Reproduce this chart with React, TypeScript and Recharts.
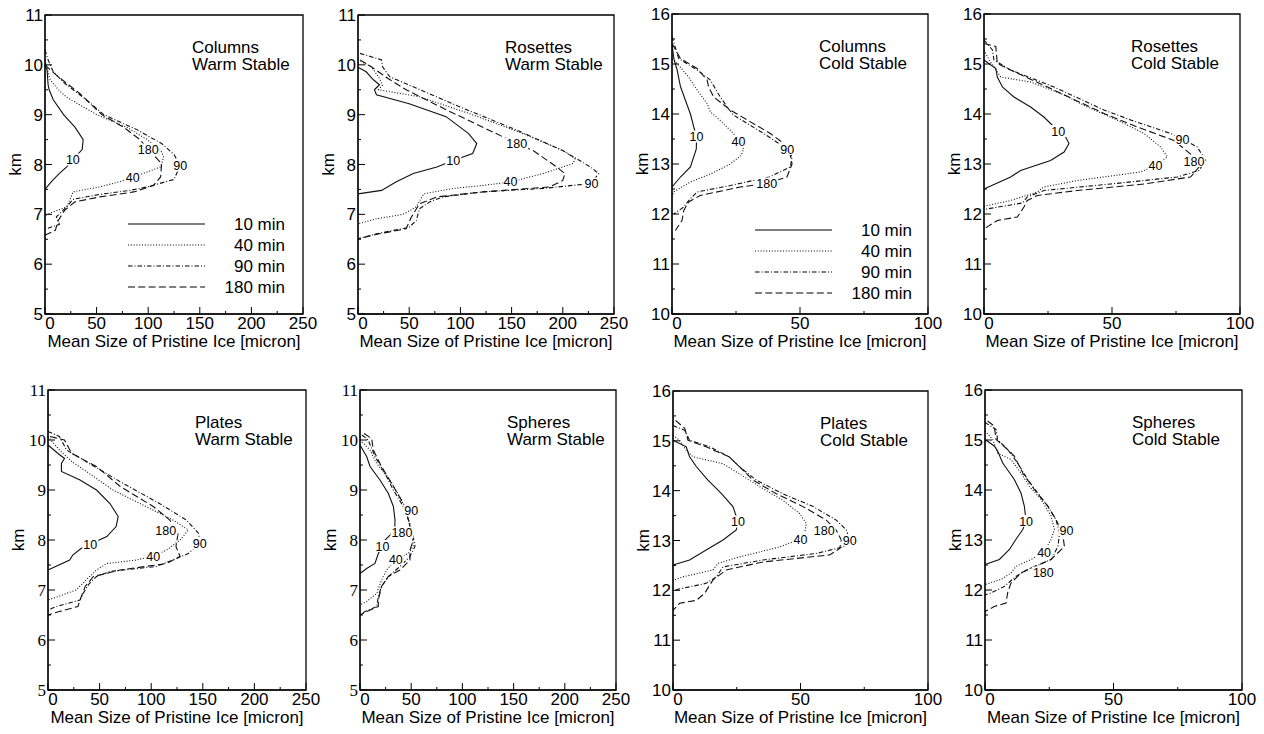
import { LineChart, Line, XAxis, YAxis, ReferenceArea } from "recharts";

// each profile point is [mean size (micron), height (km)]
type Pt = [number, number];

const runLabels = ["10", "40", "90", "180"];

// Columns, warm stable
const colWarm10: Pt[] = [[0,10.0],[2,9.9],[3,9.6],[4,9.5],[8,9.3],[18,9.0],[29,8.75],[37,8.5],[36,8.3],[27,8.1],[21,7.95],[13,7.8],[6,7.65],[0,7.5]];
const colWarm40: Pt[] = [[0,10.1],[3,9.85],[5,9.7],[13,9.5],[21,9.35],[50,9.0],[79,8.75],[99,8.5],[113,8.25],[115,8.15],[112,7.95],[99,7.85],[85,7.74],[73,7.66],[53,7.55],[27,7.45],[26,7.38],[21,7.15],[2,7.0],[0,6.95]];
const colWarm90: Pt[] = [[0,10.3],[3,10.1],[8,9.86],[19,9.63],[40,9.3],[57,9.0],[89,8.7],[113,8.42],[125,8.2],[131,7.98],[125,7.7],[99,7.55],[82,7.48],[53,7.4],[27,7.3],[21,7.15],[11,6.95],[14,6.8],[0,6.7]];
const colWarm180: Pt[] = [[0,10.0],[5,9.9],[13,9.76],[34,9.42],[55,9.0],[76,8.75],[92,8.5],[100,8.3],[113,8.02],[112,7.75],[105,7.58],[86,7.45],[53,7.35],[29,7.25],[19,7.08],[13,6.88],[10,6.68],[0,6.58]];

// Rosettes, warm stable
const rosWarm10: Pt[] = [[0,9.95],[8,9.86],[15,9.7],[21,9.6],[16,9.5],[18,9.4],[50,9.22],[86,8.96],[108,8.62],[116,8.42],[112,8.22],[93,8.08],[77,7.95],[54,7.82],[37,7.65],[23,7.48],[0,7.41]];
const rosWarm40: Pt[] = [[0,10.1],[13,9.96],[20,9.76],[24,9.6],[20,9.5],[60,9.36],[109,9.02],[161,8.62],[200,8.28],[212,8.12],[210,8.02],[181,7.82],[149,7.65],[122,7.58],[93,7.52],[64,7.41],[57,7.15],[44,7.0],[18,6.91],[0,6.81]];
const rosWarm90: Pt[] = [[2,10.23],[23,10.1],[24,9.96],[31,9.76],[54,9.56],[99,9.16],[155,8.69],[200,8.28],[227,7.95],[235,7.82],[228,7.62],[181,7.52],[122,7.45],[83,7.35],[70,7.25],[60,7.11],[57,6.88],[50,6.74],[18,6.61],[0,6.51]];
const rosWarm180: Pt[] = [[2,10.1],[13,9.96],[29,9.73],[47,9.5],[86,9.1],[135,8.62],[155,8.42],[171,8.28],[194,7.95],[202,7.82],[200,7.68],[187,7.55],[122,7.45],[77,7.35],[60,7.21],[52,6.94],[47,6.71],[21,6.61],[0,6.51]];

// Columns, cold stable
const colCold10: Pt[] = [[0,15.41],[0.7,15.11],[2,14.88],[3.3,14.55],[5.2,14.28],[7.2,14.0],[8.5,13.74],[9.6,13.55],[9.5,13.3],[7.2,12.94],[3.3,12.74],[0,12.54]];
const colCold40: Pt[] = [[0,15.1],[2,15.01],[6.5,14.74],[9.8,14.48],[13.7,14.21],[15,14.04],[18.9,13.87],[24,13.61],[26,13.45],[28,13.3],[27,13.17],[22.8,13.0],[15,12.8],[7.2,12.64],[0.6,12.44],[0,12.34]];
const colCold90: Pt[] = [[0,15.55],[2.6,15.11],[9.8,14.88],[15,14.68],[18,14.41],[21.5,14.14],[24,13.98],[35.8,13.61],[45,13.3],[46.9,13.14],[46.2,12.94],[38,12.74],[22.8,12.57],[9.8,12.44],[6.5,12.27],[4.6,12.14],[0.7,12.0]];
const colCold180: Pt[] = [[0,15.41],[3.3,15.11],[9.8,14.91],[13.7,14.68],[14.3,14.54],[16.3,14.34],[22.8,14.08],[38.4,13.61],[45.6,13.34],[46.9,13.0],[44.9,12.74],[37,12.61],[26.7,12.54],[11,12.37],[6.5,12.24],[4.6,12.07],[3.9,11.87],[1.3,11.67]];

// Rosettes, cold stable
const rosCold10: Pt[] = [[0,15.08],[4.6,14.91],[5.2,14.74],[7.2,14.54],[11.7,14.34],[18.2,14.14],[23.4,13.94],[29,13.66],[31.9,13.54],[33.2,13.41],[31.3,13.24],[26,13.07],[14.3,12.87],[10.4,12.74],[0,12.5]];
const rosCold40: Pt[] = [[0,15.28],[2,15.08],[3.9,14.95],[6.5,14.74],[18.2,14.64],[30,14.41],[40.4,14.14],[52,13.88],[62.5,13.61],[69,13.34],[71.6,13.14],[67,12.97],[61.2,12.84],[36.5,12.67],[23.4,12.54],[20.8,12.44],[10.4,12.27],[1.3,12.17],[0,12.15]];
const rosCold90: Pt[] = [[0,15.48],[3.3,15.28],[3.9,15.08],[10.4,14.88],[27.3,14.54],[46.9,14.08],[57.3,13.88],[72.9,13.61],[77.5,13.5],[83.3,13.34],[86.6,13.07],[84,12.87],[75.5,12.74],[49.5,12.6],[23.4,12.47],[16.9,12.34],[15,12.22],[0,12.09]];
const rosCold180: Pt[] = [[0,15.41],[4.6,15.35],[5.2,15.01],[10.4,14.88],[27.3,14.48],[46.9,14.01],[59.9,13.74],[74.2,13.47],[80.7,13.2],[82,13.06],[84,12.94],[80.7,12.74],[62.5,12.6],[36.5,12.47],[20.8,12.37],[16.9,12.27],[15.6,12.14],[13,11.94],[5.2,11.87],[0,11.7]];

// Plates, warm stable
const plaWarm10: Pt[] = [[0,9.9],[9.7,9.73],[16,9.63],[13,9.53],[13,9.37],[31,9.2],[47,9.0],[60,8.73],[68,8.47],[66,8.27],[57,8.07],[41,7.92],[32,7.83],[24,7.7],[21,7.6],[0,7.4]];
const plaWarm40: Pt[] = [[0,10.07],[11,9.8],[23,9.57],[40,9.33],[63,9.0],[95,8.67],[121,8.4],[136,8.2],[128,8.0],[115,7.8],[102,7.68],[86,7.6],[57,7.53],[47,7.4],[37,7.2],[27,7.0],[10,6.87],[0,6.8]];
const plaWarm90: Pt[] = [[0,10.17],[11,10.07],[18,9.8],[40,9.53],[73,9.13],[108,8.73],[134,8.4],[146,8.13],[147,7.93],[136,7.73],[121,7.6],[105,7.47],[60,7.37],[47,7.27],[40,7.13],[34,6.93],[31,6.8],[8,6.67],[0,6.6]];
const plaWarm180: Pt[] = [[2,10.07],[16,10.0],[23,9.73],[47,9.47],[70,9.07],[102,8.67],[118,8.4],[126,8.13],[124,7.87],[128,7.67],[115,7.53],[70,7.4],[44,7.27],[36,7.07],[31,6.8],[29,6.67],[11,6.57],[0,6.5]];

// Spheres, warm stable
const sphWarm10: Pt[] = [[0,9.9],[6.5,9.67],[9.8,9.47],[19.5,9.2],[27.7,8.93],[32.6,8.67],[34.2,8.4],[34,8.27],[31,8.13],[24.4,8.0],[22,7.88],[17.9,7.73],[14.6,7.53],[6.5,7.43],[0,7.33]];
const sphWarm40: Pt[] = [[0,10.0],[9.8,9.8],[16.3,9.53],[29.3,9.2],[40.7,8.8],[47.2,8.4],[50.5,8.13],[52,7.87],[47.2,7.73],[35,7.62],[26,7.4],[21,7.2],[16.3,6.93],[6.5,6.77],[0,6.7]];
const sphWarm90: Pt[] = [[2,10.1],[8,10.0],[14.6,9.67],[24.4,9.33],[32.6,9.0],[42.3,8.67],[48.8,8.33],[52,8.07],[53.7,7.87],[48.8,7.67],[39,7.47],[27.7,7.27],[21,7.07],[17.9,6.87],[16.3,6.67],[4.9,6.57],[0,6.5]];
const sphWarm180: Pt[] = [[4,10.13],[11.4,10.03],[13,9.8],[21,9.47],[32.6,9.07],[44,8.67],[48.8,8.27],[52,8.0],[48.8,7.8],[48.8,7.6],[39,7.4],[27.7,7.27],[21,7.07],[17.9,6.8],[17.9,6.67],[6.5,6.57],[0,6.5]];

// Plates, cold stable
const plaCold10: Pt[] = [[0,15.01],[5.2,14.88],[6.5,14.68],[9.2,14.48],[13.7,14.21],[19,13.94],[23.5,13.68],[25.5,13.38],[24.8,13.21],[19.6,13.01],[13,12.81],[6.5,12.61],[0,12.51]];
const plaCold40: Pt[] = [[0,15.11],[2.6,15.01],[5.2,14.81],[7.8,14.68],[19.6,14.54],[26,14.34],[34,14.08],[43,13.81],[49.7,13.54],[52.3,13.34],[51.6,13.14],[50,13.03],[41.8,12.87],[26,12.67],[17.6,12.54],[15.7,12.41],[3.9,12.27],[0,12.2]];
const plaCold90: Pt[] = [[0,15.31],[4.6,15.21],[6.5,15.01],[14.4,14.88],[22,14.68],[26,14.48],[32.7,14.21],[43,13.94],[55,13.68],[64,13.41],[68,13.21],[69.3,13.01],[66.7,12.87],[56.2,12.74],[35.3,12.61],[19.6,12.47],[17,12.27],[13,12.14],[0,12.0]];
const plaCold180: Pt[] = [[1,15.41],[4.6,15.25],[5.9,15.01],[13,14.88],[22,14.68],[27.5,14.41],[31.4,14.21],[40.5,13.94],[51,13.68],[60.1,13.41],[64,13.21],[66,13.01],[65.4,12.84],[61.4,12.71],[35.3,12.57],[20.9,12.41],[15.7,12.21],[12.4,11.94],[9.2,11.8],[2.6,11.74],[0,11.6]];

// Spheres, cold stable
const sphCold10: Pt[] = [[0,15.01],[3.6,14.88],[4.9,14.78],[6.9,14.54],[11.4,14.21],[14,13.94],[15.3,13.68],[16,13.38],[14.7,13.21],[12,13.01],[9.5,12.81],[5.6,12.61],[0,12.51]];
const sphCold40: Pt[] = [[0,15.18],[3,15.01],[4.9,14.74],[10.1,14.61],[14,14.34],[17.2,14.08],[21.8,13.81],[25.7,13.48],[27,13.21],[25.7,13.01],[23,12.76],[17.9,12.61],[12,12.47],[10.1,12.34],[6.2,12.21],[0,12.11]];
const sphCold90: Pt[] = [[0,15.35],[4.3,15.21],[4.9,15.01],[8.8,14.81],[12.7,14.54],[16.6,14.21],[20.5,13.94],[24.4,13.68],[27.6,13.41],[29,13.14],[28.4,12.87],[25.7,12.61],[16.6,12.41],[12,12.27],[7.5,12.07],[2.3,11.94],[0,11.9]];
const sphCold180: Pt[] = [[1,15.38],[3.6,15.28],[4.3,15.01],[8.8,14.81],[11.4,14.68],[14.7,14.34],[19.2,14.01],[24.4,13.68],[27.6,13.41],[30.2,13.14],[30.9,12.87],[28.3,12.74],[25.7,12.61],[19.2,12.47],[14,12.34],[10.1,12.14],[8.8,11.94],[8.2,11.74],[3.6,11.67],[0,11.57]];

// axis ticks (minor ones are drawn without a label)
const warmKmTicks = [5, 5.5, 6, 6.5, 7, 7.5, 8, 8.5, 9, 9.5, 10, 10.5, 11];
const coldKmTicks = [10, 10.5, 11, 11.5, 12, 12.5, 13, 13.5, 14, 14.5, 15, 15.5, 16];
const wideSizeTicks = [0, 25, 50, 75, 100, 125, 150, 175, 200, 225, 250];
const narrowSizeTicks = [0, 25, 50, 75, 100];

const SANS = '"Liberation Sans", Arial, Helvetica, sans-serif';
const SERIF = '"Liberation Serif", "Times New Roman", serif';

const dashes: (string | undefined)[] = [undefined, "1 1.8", "4.5 2 1 2", "7 3.3"];

type Tag = [number, number, number]; // km of the tagged point, dx, dy

type PanelCfg = {
  kind: string;
  regime: string;
  left: number;
  top: number;
  w: number;
  h: number;
  cold: boolean;
  serifKm?: boolean;
  series: Pt[][];
  tags: Tag[];
  legendTop?: number;
};

const panels: PanelCfg[] = [
  { kind: "Columns", regime: "Warm Stable", left: 45, top: 15, w: 258, h: 299, cold: false,
    series: [colWarm10, colWarm40, colWarm90, colWarm180],
    tags: [[8.1, 0, 0], [7.74, 0, 0], [7.98, 0, 0], [8.3, 0, 0]], legendTop: 209 },
  { kind: "Rosettes", regime: "Warm Stable", left: 358, top: 15, w: 256, h: 299, cold: false,
    series: [rosWarm10, rosWarm40, rosWarm90, rosWarm180],
    tags: [[8.08, 0, 0], [7.65, 0, 0], [7.62, 0, 0], [8.42, 0, 0]] },
  { kind: "Columns", regime: "Cold Stable", left: 672, top: 14, w: 256, h: 300, cold: true,
    series: [colCold10, colCold40, colCold90, colCold180],
    tags: [[13.55, 0, 0], [13.45, 0, 0], [13.3, 0, 0], [12.61, 0, 0]], legendTop: 216 },
  { kind: "Rosettes", regime: "Cold Stable", left: 984, top: 14, w: 256, h: 300, cold: true,
    series: [rosCold10, rosCold40, rosCold90, rosCold180],
    tags: [[13.66, 0, 0], [12.97, 0, 0], [13.5, 0, 0], [13.06, 0, 0]] },
  { kind: "Plates", regime: "Warm Stable", left: 48, top: 390, w: 258, h: 300, cold: false, serifKm: true,
    series: [plaWarm10, plaWarm40, plaWarm90, plaWarm180],
    tags: [[7.92, 0, 0], [7.68, 0, 0], [7.93, 0, 0], [8.4, -4, 10]] },
  { kind: "Spheres", regime: "Warm Stable", left: 360, top: 390, w: 256, h: 300, cold: false, serifKm: true,
    series: [sphWarm10, sphWarm40, sphWarm90, sphWarm180],
    tags: [[7.88, 0, 0], [7.62, 0, 0], [8.67, 8, 4], [8.27, -8, 6]] },
  { kind: "Plates", regime: "Cold Stable", left: 673, top: 391, w: 255, h: 299, cold: true,
    series: [plaCold10, plaCold40, plaCold90, plaCold180],
    tags: [[13.38, 0, 0], [13.03, 0, 0], [13.01, 0, 0], [13.21, -12, 0]] },
  { kind: "Spheres", regime: "Cold Stable", left: 985, top: 390, w: 257, h: 300, cold: true,
    series: [sphCold10, sphCold40, sphCold90, sphCold180],
    tags: [[13.38, 0, 0], [12.76, 0, 0], [13.14, 7, -3], [12.47, 9, 6]] },
];

const PAD_L = 50;
const PAD_T = 12;
const PAD_R = 28;
const PAD_B = 45;

function sizeTick(props: any) {
  const { x, y, payload } = props;
  const v = payload.value;
  const major = v % 50 === 0;
  return (
    <g>
      <line x1={x} x2={x} y1={y} y2={y - (major ? 7 : 3)} stroke="#000" strokeWidth={1} />
      {major && (
        <text x={x + (v === 0 ? 5 : 0)} y={y + 14.5} textAnchor="middle" fontSize={17} fontFamily={SANS} fill="#000">
          {v}
        </text>
      )}
    </g>
  );
}

const kmTick = (font: string) => (props: any) => {
  const { x, y, payload } = props;
  const v = payload.value;
  const major = Number.isInteger(v);
  return (
    <g>
      <line x1={x} x2={x + (major ? 7 : 3)} y1={y} y2={y} stroke="#000" strokeWidth={1} />
      {major && (
        <text x={x - 2} y={y + 6} textAnchor="end" fontSize={17} fontFamily={font} fill="#000">
          {v}
        </text>
      )}
    </g>
  );
};

// inline run label, drawn on a white patch so the curve looks broken there
const runTag = (text: string, idx: number, dx: number, dy: number) => (props: any) => {
  if (props.index !== idx) return <g />;
  const vb = props.viewBox || {};
  const x = (vb.x ?? props.x) + dx;
  const y = (vb.y ?? props.y) + dy;
  const w = text.length * 7 + 2;
  return (
    <g>
      <rect x={x - w / 2} y={y - 6} width={w} height={12} fill="#fff" />
      <text x={x} y={y + 4.5} textAnchor="middle" fontSize={12.5} fontFamily={SANS} fill="#000">
        {text}
      </text>
    </g>
  );
};

function RunLegend({ top }: { top: number }) {
  return (
    <svg
      width={170}
      height={90}
      style={{ position: "absolute", left: PAD_L + 83, top: PAD_T + top - 10 }}
    >
      {runLabels.map((r, i) => {
        const y = 10 + i * 21;
        return (
          <g key={r}>
            <line x1={0} x2={77} y1={y} y2={y} stroke="#000" strokeWidth={1.1} strokeDasharray={dashes[i]} />
            <text x={157} y={y + 6} textAnchor="end" fontSize={17} fontFamily={SANS} fill="#000">
              {r} min
            </text>
          </g>
        );
      })}
    </svg>
  );
}

function Panel({ p }: { p: PanelCfg }) {
  const W = p.w + PAD_L + PAD_R;
  const H = p.h + PAD_T + PAD_B;
  const xMax = p.cold ? 100 : 250;
  const yDom: [number, number] = p.cold ? [10, 16] : [5, 11];
  return (
    <div style={{ position: "absolute", left: p.left - PAD_L, top: p.top - PAD_T, width: W, height: H }}>
      <LineChart width={W} height={H} margin={{ top: PAD_T, right: PAD_R, bottom: 0, left: 0 }}>
        <XAxis
          type="number"
          dataKey="size"
          domain={[0, xMax]}
          ticks={p.cold ? narrowSizeTicks : wideSizeTicks}
          interval={0}
          tickSize={0}
          tickMargin={0}
          tickLine={false}
          axisLine={{ stroke: "#000" }}
          tick={sizeTick}
          height={PAD_B}
          label={(lp: any) => {
            const vb = lp.viewBox;
            return (
              <text x={vb.x + vb.width / 2} y={vb.y + 33} textAnchor="middle" fontSize={17} fontFamily={SANS} fill="#000">
                Mean Size of Pristine Ice [micron]
              </text>
            );
          }}
        />
        <YAxis
          type="number"
          domain={yDom}
          ticks={p.cold ? coldKmTicks : warmKmTicks}
          interval={0}
          tickSize={0}
          tickMargin={0}
          tickLine={false}
          axisLine={{ stroke: "#000" }}
          tick={kmTick(p.serifKm ? SERIF : SANS)}
          width={PAD_L}
          label={(lp: any) => {
            const vb = lp.viewBox;
            const cx = vb.x + vb.width - 30;
            const cy = vb.y + vb.height / 2;
            return (
              <text x={cx} y={cy} transform={`rotate(-90 ${cx} ${cy})`} textAnchor="middle" dominantBaseline="central" fontSize={17} fontFamily={SANS} fill="#000">
                km
              </text>
            );
          }}
        />
        <ReferenceArea x1={0} x2={xMax} y1={yDom[0]} y2={yDom[1]} fill="none" stroke="#000" strokeWidth={1.3} ifOverflow="visible" />
        {p.series.map((pts, i) => {
          const data = pts.map(([size, km]) => ({ size, km }));
          const [tagKm, dx, dy] = p.tags[i];
          const idx = pts.findIndex((q) => q[1] === tagKm);
          return (
            <Line
              key={runLabels[i]}
              data={data}
              dataKey="km"
              type="linear"
              stroke="#111"
              strokeWidth={1.1}
              strokeDasharray={dashes[i]}
              dot={false}
              activeDot={false}
              isAnimationActive={false}
              label={runTag(runLabels[i], idx, dx, dy)}
            />
          );
        })}
      </LineChart>
      <div
        style={{
          position: "absolute",
          left: PAD_L + 147,
          top: PAD_T + 24,
          fontFamily: SANS,
          fontSize: 17,
          lineHeight: "17px",
          color: "#000",
          whiteSpace: "nowrap",
        }}
      >
        {p.kind}
        <br />
        {p.regime}
      </div>
      {p.legendTop !== undefined && <RunLegend top={p.legendTop} />}
    </div>
  );
}

export default function App() {
  return (
    <div style={{ position: "fixed", left: 0, top: 0, width: 1264, height: 734, background: "#fff" }}>
      {panels.map((p) => (
        <Panel key={p.kind + p.regime} p={p} />
      ))}
    </div>
  );
}
